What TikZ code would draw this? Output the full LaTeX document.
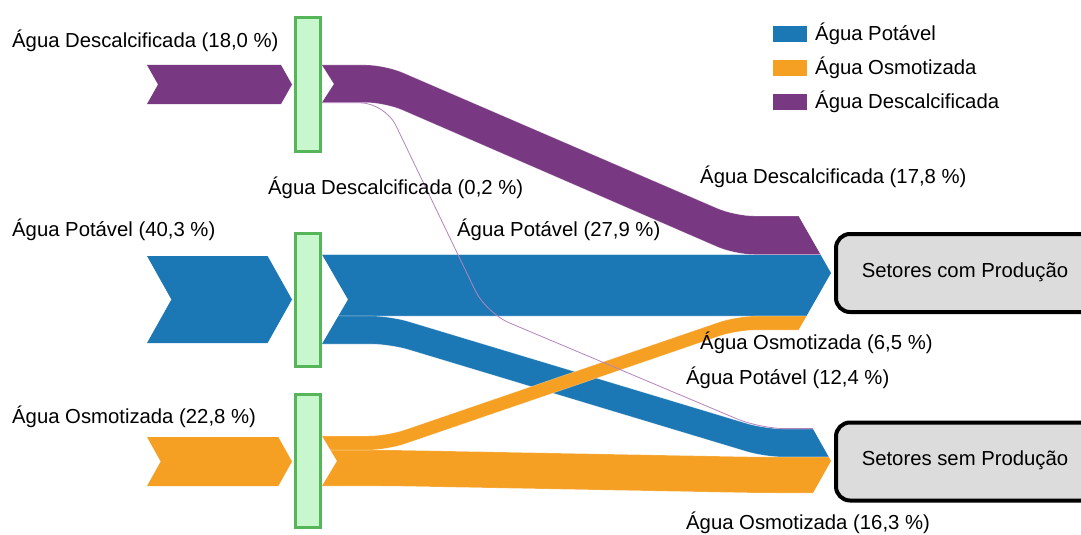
\documentclass[tikz,border=0pt]{standalone}
\usepackage{fontspec}
\setmainfont{Liberation Sans}
\definecolor{descal}{RGB}{121,56,130}
\definecolor{potavel}{RGB}{28,120,181}
\definecolor{osmot}{RGB}{246,160,35}
\definecolor{procfill}{RGB}{200,247,205}
\definecolor{procline}{RGB}{86,180,90}
\definecolor{tgtfill}{RGB}{220,220,220}
\definecolor{tracecol}{RGB}{180,130,190}

% notches where the flows leave each process bar
\newcommand\clipsrcA{\clip (322,-10) -- (1100,-10) -- (1100,545) -- (322,545) -- (322,102.5) -- (334,84) -- (322,65) -- cycle;}
\newcommand\clipsrcB{\clip (322,-10) -- (1100,-10) -- (1100,545) -- (322,545) -- (322,344) -- (348,299.5) -- (322,254.5) -- cycle;}
\newcommand\clipsrcC{\clip (322,-10) -- (1100,-10) -- (1100,545) -- (322,545) -- (322,486) -- (337,461) -- (322,436) -- cycle;}
% arrow tips where the flows enter each sector box
\newcommand\cliptgtA{\clip (-10,-10) -- (798.5,-10) -- (798.5,216) -- (831,273) -- (798.5,330) -- (798.5,545) -- (-10,545) -- cycle;}
\newcommand\cliptgtB{\clip (-10,-10) -- (813,-10) -- (813,429) -- (831,461) -- (813,493) -- (813,545) -- (-10,545) -- cycle;}

\begin{document}
\begin{tikzpicture}[x=1pt,y=-1pt,
  font=\fontsize{20.3}{24}\selectfont,
  band/.style={draw=white, draw opacity=0.3, line width=0.6pt, rounded corners=19pt},
  proc/.style={draw=procline, fill=procfill, line width=3pt, minimum width=25pt, minimum height=133pt, inner sep=0pt},
  sector/.style={draw=black, fill=tgtfill, line width=4pt, rounded corners=14pt, minimum width=262pt, minimum height=78pt, anchor=west, inner sep=0pt},
  lbl/.style={anchor=base west, inner sep=0pt},
  keybox/.style={minimum width=34pt, minimum height=16pt, inner sep=0pt},
  trace/.style={draw=tracecol, line width=0.8pt, rounded corners=25pt}]
\useasboundingbox (0,0) rectangle (1081,535);
\clip (0,0) rectangle (1081,535);

% incoming supplies
\fill[descal]  (147,65)  -- (281,65)    -- (292,84.5) -- (281,104)   -- (147,104) -- (158,84.5) -- cycle;
\fill[potavel] (147,256) -- (267.6,256) -- (292,299.5) -- (267.6,343) -- (147,343) -- (171.4,299.5) -- cycle;
\fill[osmot]   (147,437) -- (278.3,437) -- (292,461.5) -- (278.3,486) -- (147,486) -- (160.7,461.5) -- cycle;

% flows
\begin{scope}\clipsrcB\cliptgtA
  \fill[band, fill=potavel] (250,254.5) -- (900,254.5) -- (900,316) -- (250,316) -- cycle;
\end{scope}
\begin{scope}\clipsrcA\cliptgtA
  \fill[band, fill=descal] (250,65) -- (385,65) -- (735,216) -- (900,216) -- (900,254.5) -- (735,254.5) -- (385,102.5) -- (250,102.5) -- cycle;
\end{scope}
\begin{scope}\clipsrcB\cliptgtB
  \fill[band, fill=potavel] (250,316) -- (390,316) -- (765,429) -- (900,429) -- (900,457) -- (765,457) -- (390,344) -- (250,344) -- cycle;
\end{scope}
\begin{scope}\clipsrcC\cliptgtB
  \fill[band, fill=osmot] (250,450) -- (390,450) -- (760,457) -- (900,457) -- (900,493) -- (760,493) -- (390,486) -- (250,486) -- cycle;
\end{scope}
\begin{scope}\clipsrcC\cliptgtA
  \fill[band, fill=osmot] (250,436) -- (387,436) -- (737,316) -- (900,316) -- (900,330) -- (737,330) -- (387,450) -- (250,450) -- cycle;
\end{scope}

% process bars
\node[proc] (pa) at (308,84.5) {};
\node[proc] (pb) at (308,300) {};
\node[proc] (pc) at (308,461) {};

% sector boxes
\node[sector] (ta) at (834,273) {};
\node[sector] (tb) at (834,461.5) {};
\node (tatext) at (965,272) {Setores com Produção};
\node (tbtext) at (965,460) {Setores sem Produção};

% 0,2 % trace from the first bar to the second sector
\coordinate (trstart) at (pa.east |- 0,102.8);
\coordinate (trend) at (813,428.6);
\draw[trace] (trstart) -- (385,102.8) -- (486,313) -- (760,428.6) -- (trend);

% labels
\node[lbl] (l1) at (12,48)   {Água Descalcificada (18,0 \%)};
\node[lbl] (l2) at (12,236)  {Água Potável (40,3 \%)};
\node[lbl] (l3) at (12,423)  {Água Osmotizada (22,8 \%)};
\node[lbl] (l4) at (268,194) {Água Descalcificada (0,2 \%)};
\node[lbl] (l5) at (457,236) {Água Potável (27,9 \%)};
\node[lbl] (l6) at (700,183) {Água Descalcificada (17,8 \%)};
\node[lbl] (l7) at (700,349) {Água Osmotizada (6,5 \%)};
\node[lbl] (l8) at (686,384) {Água Potável (12,4 \%)};
\node[lbl] (l9) at (686,529.5) {Água Osmotizada (16,3 \%)};

% legend
\node[keybox, fill=potavel] (k1) at (790,34) {};
\node[keybox, fill=osmot]   (k2) at (790,68) {};
\node[keybox, fill=descal]  (k3) at (790,102) {};
\node[lbl] (k1t) at (815,40.5)  {Água Potável};
\node[lbl] (k2t) at (815,74.5)  {Água Osmotizada};
\node[lbl] (k3t) at (815,108.5) {Água Descalcificada};
\end{tikzpicture}
\end{document}
